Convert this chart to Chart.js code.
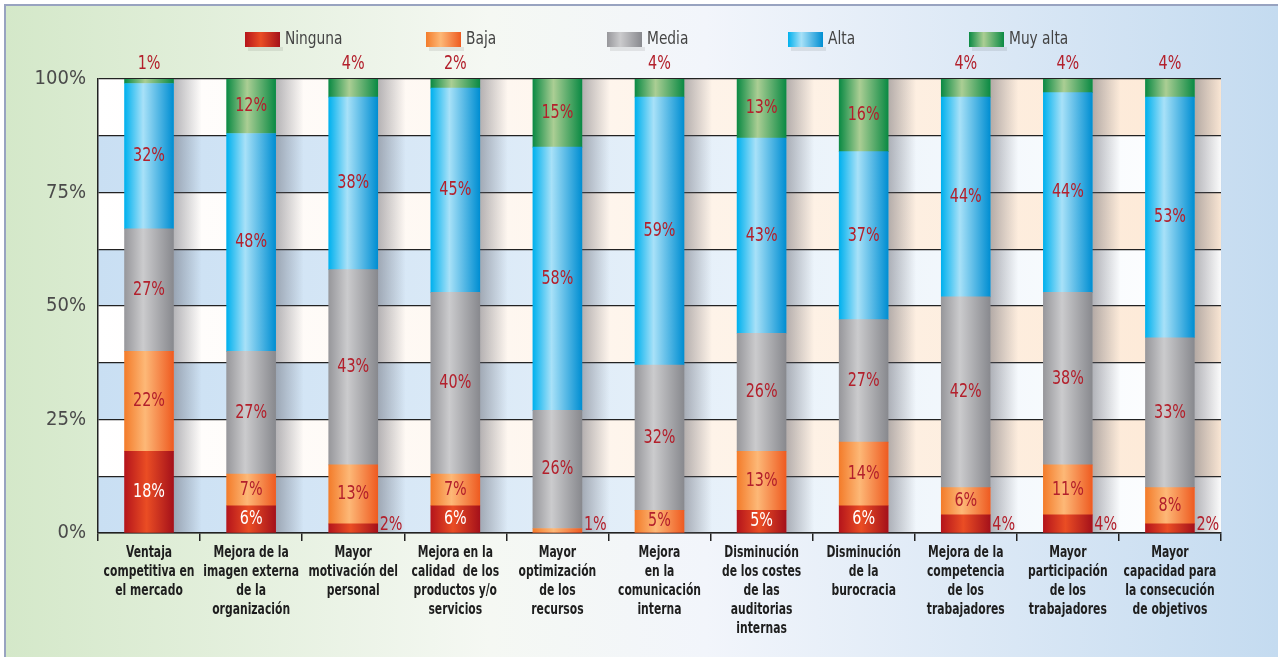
<!DOCTYPE html>
<html lang="es">
<head>
<meta charset="utf-8">
<title>Mejoras percibidas</title>
<script src="https://cdn.jsdelivr.net/npm/chart.js@4.4.1/dist/chart.umd.min.js"></script>
<style>
  html, body { margin: 0; padding: 0; background: #fff; }
  #wrap { width: 1278px; height: 657px; }
</style>
</head>
<body>
<div id="wrap"><canvas id="chart" width="1278" height="657"></canvas></div>
<script>
// Categories (x axis), one array per line of text
const categories = [
    ['Ventaja', 'competitiva en', 'el mercado'],
    ['Mejora de la', 'imagen externa', 'de la', 'organización'],
    ['Mayor', 'motivación del', 'personal'],
    ['Mejora en la', 'calidad  de los', 'productos y/o', 'servicios'],
    ['Mayor', 'optimización', 'de los', 'recursos'],
    ['Mejora', 'en la', 'comunicación', 'interna'],
    ['Disminución', 'de los costes', 'de las', 'auditorias', 'internas'],
    ['Disminución', 'de la', 'burocracia'],
    ['Mejora de la', 'competencia', 'de los', 'trabajadores'],
    ['Mayor', 'participación', 'de los', 'trabajadores'],
    ['Mayor', 'capacidad para', 'la consecución', 'de objetivos']
];

const seriesNames = ['Ninguna', 'Baja', 'Media', 'Alta', 'Muy alta'];

// Percentages per category
const ninguna = [18, 6, 2, 6, 0, 0, 5, 6, 4, 4, 2];
const baja    = [22, 7, 13, 7, 1, 5, 13, 14, 6, 11, 8];
const media   = [27, 27, 43, 40, 26, 32, 26, 27, 42, 38, 33];
const alta    = [32, 48, 38, 45, 58, 59, 43, 37, 44, 44, 53];
const muyAlta = [1, 12, 4, 2, 15, 4, 13, 16, 4, 4, 4];

const yTickLabels = [0, 25, 50, 75, 100];

// Horizontal gradient stops for each series (cylinder look)
const seriesStops = [
    [[0, '#b5151b'], [0.45, '#ea4d24'], [1, '#a5111a']],
    [[0, '#f37c2b'], [0.42, '#fdb877'], [1, '#ee5b21']],
    [[0, '#97979b'], [0.38, '#cbcbcd'], [1, '#88898e']],
    [[0, '#00b1ee'], [0.38, '#a8e1f8'], [1, '#008ed2']],
    [[0, '#0b8a44'], [0.42, '#abce94'], [1, '#0b8a44']]
];

const BAR_WIDTH = 49;
const FONT_NARROW = '"DejaVu Sans Condensed", "Liberation Sans Narrow", sans-serif';
const LABEL_RED = '#b3202c';

function barFill(stops) {
    return function (ctx) {
        const chart = ctx.chart;
        const xs = chart.scales.x;
        if (!xs || ctx.dataIndex === undefined) return stops[1][1];
        const cx = xs.getPixelForValue(ctx.dataIndex);
        if (!Number.isFinite(cx)) return stops[1][1];
        const g = chart.ctx.createLinearGradient(cx - BAR_WIDTH / 2, 0, cx + BAR_WIDTH / 2, 0);
        stops.forEach(([p, c]) => g.addColorStop(p, c));
        return g;
    };
}

// Draw text squeezed horizontally (the original uses a condensed face)
function narrowText(ctx, text, x, y, squeeze) {
    ctx.save();
    ctx.translate(x, y);
    ctx.scale(squeeze, 1);
    ctx.fillText(text, 0, 0);
    ctx.restore();
}

// Panel background + striped plot area
const panelBackground = {
    id: 'panelBackground',
    beforeDraw(chart) {
        const { ctx, width, height, chartArea: a } = chart;
        const y = chart.scales.y;
        ctx.save();
        ctx.fillStyle = '#ffffff';
        ctx.fillRect(0, 0, width, height);

        const bg = ctx.createLinearGradient(6, 0, width, 0);
        bg.addColorStop(0, '#d4e8c9');
        bg.addColorStop(0.38, '#f5f8f3');
        bg.addColorStop(0.55, '#f2f5fb');
        bg.addColorStop(1, '#c4dbf0');
        ctx.fillStyle = bg;
        ctx.fillRect(6, 6, width - 6, height - 6);

        ctx.strokeStyle = '#98a3c0';
        ctx.lineWidth = 2;
        ctx.beginPath();
        ctx.moveTo(5, height);
        ctx.lineTo(5, 5);
        ctx.lineTo(width, 5);
        ctx.stroke();

        for (let v = 0; v < 100; v += 12.5) {
            const top = y.getPixelForValue(v + 12.5);
            const bot = y.getPixelForValue(v);
            const blue = Math.round(v / 12.5) % 2 === 0;
            const g = ctx.createLinearGradient(a.left, 0, a.right, 0);
            if (blue) {
                g.addColorStop(0, '#c9dff3');
                g.addColorStop(1, '#ffffff');
            } else {
                g.addColorStop(0, '#ffffff');
                g.addColorStop(1, '#fde9d6');
            }
            ctx.fillStyle = g;
            ctx.fillRect(a.left, top, a.right - a.left, bot - top);
        }
        ctx.restore();
    }
};

// Soft shadow on the right side of each column
const barShadow = {
    id: 'barShadow',
    beforeDatasetsDraw(chart) {
        const { ctx } = chart;
        const yTop = chart.scales.y.getPixelForValue(100);
        ctx.save();
        chart.getDatasetMeta(0).data.forEach((bar) => {
            const right = bar.x + bar.width / 2;
            const g = ctx.createLinearGradient(right, 0, right + 28, 0);
            g.addColorStop(0, 'rgba(90, 90, 100, 0.45)');
            g.addColorStop(1, 'rgba(90, 90, 100, 0)');
            ctx.fillStyle = g;
            ctx.fillRect(right, yTop, 28, bar.base - yTop);
        });
        ctx.restore();
    }
};

// Percentage labels
const valueLabels = {
    id: 'valueLabels',
    afterDatasetsDraw(chart) {
        const { ctx } = chart;
        const last = chart.data.datasets.length - 1;
        ctx.save();
        ctx.font = '19px ' + FONT_NARROW;
        chart.data.datasets.forEach((ds, di) => {
            chart.getDatasetMeta(di).data.forEach((bar, i) => {
                const v = ds.data[i];
                if (!v) return;
                let x = bar.x;
                let y = (bar.y + bar.base) / 2;
                let align = 'center';
                let baseline = 'middle';
                let color = di === 0 ? '#ffffff' : LABEL_RED;
                if (v <= 4 && di === last) {
                    y = chart.chartArea.top - 5;
                    baseline = 'bottom';
                    color = LABEL_RED;
                } else if (v <= 4) {
                    x = bar.x + bar.width / 2 + 2;
                    y = bar.base + 2;
                    align = 'left';
                    baseline = 'bottom';
                    color = LABEL_RED;
                }
                ctx.fillStyle = color;
                ctx.textAlign = align;
                ctx.textBaseline = baseline;
                narrowText(ctx, v + '%', x, y, 0.84);
            });
        });
        ctx.restore();
    }
};

// Multi-line category names under the axis
const categoryLabels = {
    id: 'categoryLabels',
    afterDraw(chart) {
        const { ctx } = chart;
        const xs = chart.scales.x;
        ctx.save();
        ctx.font = 'bold 15px ' + FONT_NARROW;
        ctx.fillStyle = '#1e1e1e';
        ctx.textAlign = 'center';
        ctx.textBaseline = 'middle';
        categories.forEach((lines, i) => {
            const cx = xs.getPixelForValue(i);
            lines.forEach((line, k) => {
                narrowText(ctx, line, cx, xs.top + 20 + k * 19, 0.8);
            });
        });
        ctx.restore();
    }
};

// Legend row at the top
const topLegend = {
    id: 'topLegend',
    afterDraw(chart) {
        const { ctx } = chart;
        const start = 245, step = 181, top = 32, boxW = 35, boxH = 15;
        ctx.save();
        ctx.font = '17px ' + FONT_NARROW;
        ctx.textBaseline = 'middle';
        ctx.textAlign = 'left';
        seriesNames.forEach((name, i) => {
            const x = start + i * step;
            ctx.fillStyle = 'rgba(0, 0, 0, 0.08)';
            ctx.fillRect(x + 3, top + boxH, boxW, 4);
            const g = ctx.createLinearGradient(x, 0, x + boxW, 0);
            seriesStops[i].forEach(([p, c]) => g.addColorStop(p, c));
            ctx.fillStyle = g;
            ctx.fillRect(x, top, boxW, boxH);
            ctx.fillStyle = '#444444';
            narrowText(ctx, name, x + boxW + 5, top + boxH / 2, 0.9);
        });
        ctx.restore();
    }
};

const seriesData = [ninguna, baja, media, alta, muyAlta];

const chartCtx = document.getElementById('chart').getContext('2d');
const chart = new Chart(chartCtx, {
    type: 'bar',
    data: {
        labels: categories.map((lines) => lines.join(' ')),
        datasets: seriesNames.map((name, i) => ({
            label: name,
            data: seriesData[i],
            backgroundColor: barFill(seriesStops[i]),
            borderWidth: 0,
            barThickness: BAR_WIDTH
        }))
    },
    options: {
        responsive: false,
        animation: false,
        events: [],
        layout: { padding: { top: 79, right: 57, left: 0, bottom: 0 } },
        plugins: {
            legend: { display: false },
            tooltip: { enabled: false }
        },
        scales: {
            x: {
                stacked: true,
                afterFit: (scale) => { scale.height = 124; },
                grid: {
                    offset: true,
                    drawOnChartArea: false,
                    drawTicks: true,
                    tickLength: 8,
                    color: '#222222',
                    lineWidth: 1.5
                },
                border: { display: true, color: '#222222', width: 1.5 },
                ticks: { display: false, autoSkip: false, maxRotation: 0, minRotation: 0 }
            },
            y: {
                stacked: true,
                min: 0,
                max: 100,
                afterFit: (scale) => { scale.width = 98; },
                grid: { color: '#222222', lineWidth: 1.3, drawTicks: false },
                border: { display: true, color: '#222222', width: 1.5 },
                ticks: {
                    stepSize: 12.5,
                    padding: 12,
                    color: '#4a4a4a',
                    font: { family: FONT_NARROW, size: 20 },
                    callback: (v) => (yTickLabels.includes(v) ? v + '%' : '')
                }
            }
        }
    },
    plugins: [panelBackground, barShadow, valueLabels, categoryLabels, topLegend]
});
</script>
</body>
</html>
